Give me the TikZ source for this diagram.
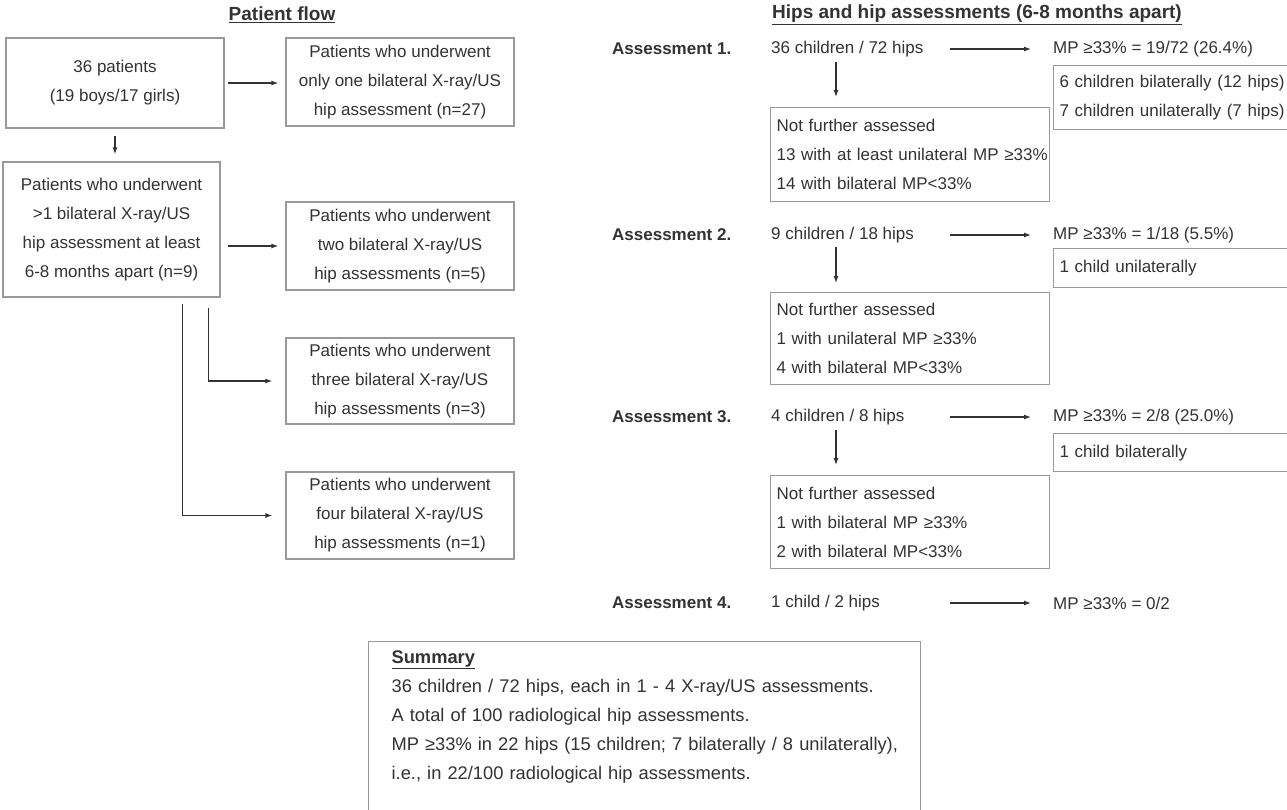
\documentclass[tikz,border=0pt]{standalone}
\usepackage{fontspec}
\setmainfont{Liberation Sans}
\usepackage{tikz}
\usetikzlibrary{arrows.meta}
\definecolor{textgrey}{HTML}{333333}
\definecolor{boxgrey}{HTML}{9A9A9A}
\newcommand{\flowfont}{\fontsize{17}{29}\selectfont}
\newcommand{\summfont}{\fontsize{18.3}{29}\selectfont}
\newcommand{\titlefont}{\fontsize{19}{23}\selectfont\bfseries}
\tikzstyle{flowbox}=[draw=boxgrey, line width=1.2pt, align=center, inner sep=0,
                     font=\flowfont, text=textgrey]
\tikzstyle{notebox}=[draw=boxgrey, line width=1.2pt, align=left, anchor=north west,
                     inner xsep=6pt, inner ysep=0, font=\flowfont, text=textgrey]
\tikzstyle{plaintext}=[inner sep=0, anchor=west, font=\flowfont, text=textgrey]
\tikzstyle{rowhead}=[plaintext, font=\flowfont\bfseries]
\tikzstyle{coltitle}=[plaintext, anchor=center, font=\titlefont]
\tikzstyle{flowarrow}=[-{Latex[length=7pt, width=5pt]}, line width=1.2pt, draw=textgrey]

\begin{document}
\begin{tikzpicture}[x=1pt, y=-1pt]
        \useasboundingbox (0,0) rectangle (1287,809);
        \fill[white] (0,0) rectangle (1287,809);
        \clip (0,0) rectangle (1287,809);
        % Patient flow
        \node[coltitle] (ptitle) at (282,15) {\underline{Patient flow}};
        \node[flowbox, minimum width=218pt, minimum height=90pt] (pat) at (115,83)
            {36 patients\\(19 boys/17 girls)};
        \node[flowbox, minimum width=228pt, minimum height=88pt] (one) at (400,82)
            {Patients who underwent\\only one bilateral X-ray/US\\hip assessment (n=27)};
        \node[flowbox, minimum width=217pt, minimum height=135pt] (more) at (111.5,229.5)
            {Patients who underwent\\>1 bilateral X-ray/US\\hip assessment at least\\6-8 months apart (n=9)};
        \node[flowbox, minimum width=228pt, minimum height=88pt] (two) at (400,246)
            {Patients who underwent\\two bilateral X-ray/US\\hip assessments (n=5)};
        \node[flowbox, minimum width=228pt, minimum height=86pt] (three) at (400,381)
            {Patients who underwent\\three bilateral X-ray/US\\hip assessments (n=3)};
        \node[flowbox, minimum width=228pt, minimum height=87pt] (four) at (400,515.5)
            {Patients who underwent\\four bilateral X-ray/US\\hip assessments (n=1)};
        \draw[flowarrow, shorten <=3pt, shorten >=7pt] (pat.east) -- (pat.east -| one.west);
        \draw[flowarrow, shorten <=7pt, shorten >=7pt] (pat.south) -- (pat.south |- more.north);
        \draw[flowarrow, shorten <=7pt, shorten >=7pt] (two.west -| more.east) -- (two.west);
        \draw[flowarrow, shorten >=13pt] ([xshift=97pt, yshift=-10pt]more.south) |- (three.west);
        \draw[flowarrow, shorten >=13pt] ([xshift=71pt, yshift=-6pt]more.south) |- (four.west);
        % Hips and hip assessments
        \node[coltitle] (htitle) at (977,15) {\underline{Hips and hip assessments (6-8 months apart)}};
        \node[rowhead] (as1) at (612,49) {Assessment 1.};
        \node[plaintext] (hips1) at (771,49) {36 children / 72 hips};
        \node[plaintext] (mp1) at (1053,49) {MP ≥33\% = 19/72 (26.4\%)};
        \node[notebox, text width=260pt, minimum height=64pt] (res1) at (1053,65)
            {6 children bilaterally (12 hips)\\7 children unilaterally (7 hips)};
        \node[notebox, text width=267pt, minimum height=94pt] (not1) at (770,107)
            {Not further assessed\\\mbox{13 with at least unilateral MP ≥33\%}\\14 with bilateral MP<33\%};
        \node[rowhead] (as2) at (612,235) {Assessment 2.};
        \node[plaintext] (hips2) at (771,235) {9 children / 18 hips};
        \node[plaintext] (mp2) at (1053,235) {MP ≥33\% = 1/18 (5.5\%)};
        \node[notebox, text width=260pt, minimum height=39pt] (res2) at (1053,248)
            {1 child unilaterally};
        \node[notebox, text width=267pt, minimum height=92pt] (not2) at (770,292)
            {Not further assessed\\1 with unilateral MP ≥33\%\\4 with bilateral MP<33\%};
        \node[rowhead] (as3) at (612,417) {Assessment 3.};
        \node[plaintext] (hips3) at (771,417) {4 children / 8 hips};
        \node[plaintext] (mp3) at (1053,417) {MP ≥33\% = 2/8 (25.0\%)};
        \node[notebox, text width=260pt, minimum height=38pt] (res3) at (1053,433)
            {1 child bilaterally};
        \node[notebox, text width=267pt, minimum height=93pt] (not3) at (770,475)
            {Not further assessed\\1 with bilateral MP ≥33\%\\2 with bilateral MP<33\%};
        \node[rowhead] (as4) at (612,603) {Assessment 4.};
        \node[plaintext] (hips4) at (771,603) {1 child / 2 hips};
        \node[plaintext] (mp4) at (1053,603) {MP ≥33\% = 0/2};
        \coordinate (go1) at (950,49);
        \coordinate (go2) at (950,235);
        \coordinate (go3) at (950,417);
        \coordinate (go4) at (950,603);
        \draw[flowarrow, shorten >=22pt] (go1) -- (mp1.west);
        \draw[flowarrow, shorten >=22pt] (go2) -- (mp2.west);
        \draw[flowarrow, shorten >=22pt] (go3) -- (mp3.west);
        \draw[flowarrow, shorten >=22pt] (go4) -- (mp4.west);
        \coordinate (dn1) at (836,62);
        \coordinate (dn2) at (836,247);
        \coordinate (dn3) at (836,430);
        \draw[flowarrow, shorten >=10pt] (dn1) -- (dn1 |- not1.north);
        \draw[flowarrow, shorten >=9pt] (dn2) -- (dn2 |- not2.north);
        \draw[flowarrow, shorten >=10pt] (dn3) -- (dn3 |- not3.north);
        % Summary
        \node[notebox, font=\summfont, text width=506pt, inner xsep=23pt, inner ysep=9pt, text depth=190pt] (summ) at (368,641)
            {\textbf{\underline{Summary}}\\36 children / 72 hips, each in 1 - 4 X-ray/US assessments.\\A total of 100 radiological hip assessments.\\\mbox{MP ≥33\% in 22 hips (15 children; 7 bilaterally / 8 unilaterally),}\\i.e., in 22/100 radiological hip assessments.};
    \end{tikzpicture}
\end{document}
